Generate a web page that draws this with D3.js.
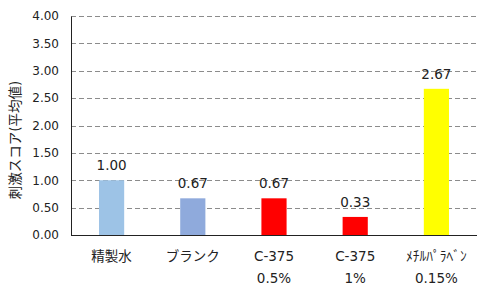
<!DOCTYPE html>
<html>
<head>
<meta charset="utf-8">
<script src="https://cdn.jsdelivr.net/npm/d3@7"></script>
<style>
  body { margin: 0; background: #fff; }
  svg text { font-family: "DejaVu Sans", "Noto Sans CJK JP", sans-serif; fill: #222; }
</style>
</head>
<body>
<div id="chart"></div>
<script>
// data
var cats1 = ["精製水", "ブランク", "C-375", "C-375", "ﾒﾁﾙﾊﾟﾗﾍﾞﾝ"];
var cats2 = ["", "", "0.5%", "1%", "0.15%"];
var scores = [1.00, 0.67, 0.67, 0.33, 2.67];
var barColors = ["#9DC3E6", "#8FAADC", "#FF0000", "#FF0000", "#FFFF00"];
var yTicks = [0, 0.5, 1, 1.5, 2, 2.5, 3, 3.5, 4];
var yTitle = "刺激スコア(平均値)";

var width = 488, height = 298;
var plotLeft = 71, plotRight = 477, plotTop = 16, plotBottom = 235;

var svg = d3.select('#chart').append('svg')
  .attr('width', width)
  .attr('height', height);

var x = d3.scaleBand()
  .domain(d3.range(scores.length))
  .range([plotLeft, plotRight])
  .paddingInner(0.69)
  .paddingOuter(0.345);

var y = d3.scaleLinear()
  .domain([0, 4])
  .range([plotBottom, plotTop]);

// gridlines
svg.append('g')
  .selectAll('line')
  .data(yTicks.filter(function(d){ return d > 0; }))
  .enter().append('line')
  .attr('x1', plotLeft)
  .attr('x2', plotRight)
  .attr('y1', function(d){ return Math.round(y(d)) + 0.5; })
  .attr('y2', function(d){ return Math.round(y(d)) + 0.5; })
  .attr('stroke', '#8c8c8c')
  .attr('stroke-width', 1)
  .attr('stroke-dasharray', '5,3');

// bars
svg.append('g')
  .selectAll('rect')
  .data(scores)
  .enter().append('rect')
  .attr('x', function(d, i){ return x(i); })
  .attr('width', x.bandwidth())
  .attr('y', function(d){ return y(d); })
  .attr('height', function(d){ return plotBottom - y(d); })
  .attr('fill', function(d, i){ return barColors[i]; });

// value labels
svg.append('g')
  .selectAll('text')
  .data(scores)
  .enter().append('text')
  .attr('x', function(d, i){ return x(i) + x.bandwidth() / 2; })
  .attr('y', function(d){ return y(d) - 10; })
  .attr('text-anchor', 'middle')
  .attr('font-size', '13.5px')
  .text(function(d){ return d.toFixed(2); });

// y axis
var yAxis = d3.axisLeft(y)
  .tickValues(yTicks)
  .tickFormat(d3.format('.2f'))
  .tickSize(0)
  .tickPadding(12);

var gy = svg.append('g')
  .attr('transform', 'translate(' + plotLeft + ',0)')
  .call(yAxis);
gy.select('.domain').attr('stroke', '#222');
gy.selectAll('text').attr('font-size', '12px').attr('fill', '#222')
  .attr('font-family', '"DejaVu Sans"');

// x axis line
svg.append('line')
  .attr('x1', plotLeft)
  .attr('x2', plotRight)
  .attr('y1', plotBottom + 0.5)
  .attr('y2', plotBottom + 0.5)
  .attr('stroke', '#222');

// category labels
var labels = svg.append('g')
  .selectAll('g')
  .data(cats1)
  .enter().append('g');
labels.append('text')
  .attr('x', function(d, i){ return x(i) + x.bandwidth() / 2; })
  .attr('y', 261)
  .attr('text-anchor', 'middle')
  .attr('font-size', '13.5px')
  .attr('font-family', function(d, i){ return i >= 2 && i <= 3 ? '"DejaVu Sans"' : '"Noto Sans CJK JP"'; })
  .text(function(d){ return d; });
labels.append('text')
  .attr('x', function(d, i){ return x(i) + x.bandwidth() / 2; })
  .attr('y', 283)
  .attr('text-anchor', 'middle')
  .attr('font-size', '13.5px')
  .text(function(d, i){ return cats2[i]; });

// y title
svg.append('text')
  .attr('transform', 'translate(20,140) rotate(-90)')
  .attr('text-anchor', 'middle')
  .attr('font-size', '13.5px')
  .attr('font-family', '"Noto Sans CJK JP"')
  .text(yTitle);
</script>
</body>
</html>
